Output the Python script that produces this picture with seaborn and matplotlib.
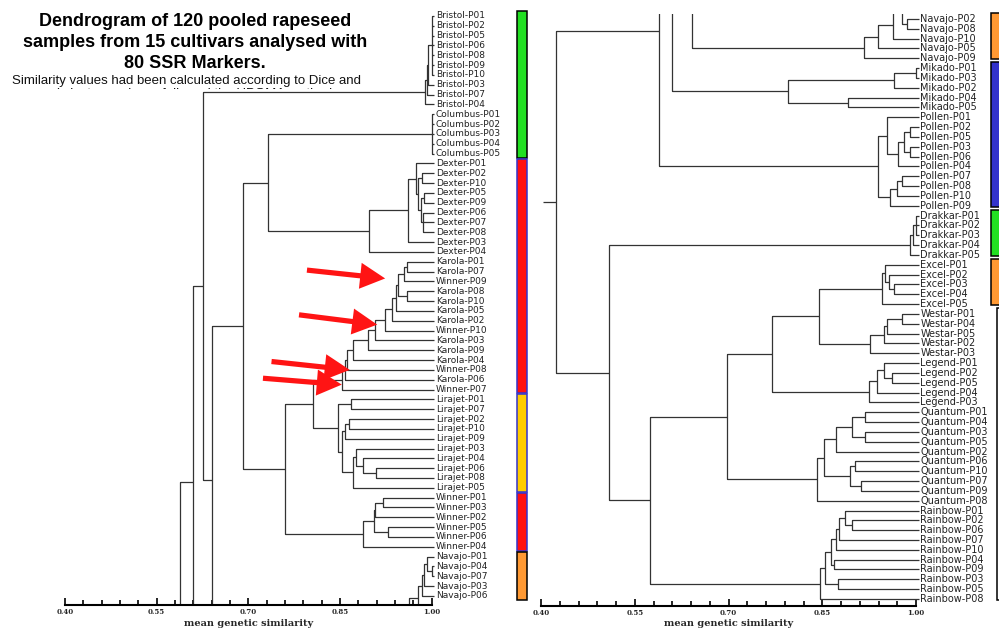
import matplotlib
matplotlib.use("Agg")
import matplotlib.pyplot as plt
import matplotlib.transforms as mtransforms
import numpy as np
import seaborn as sns
from matplotlib.patches import Rectangle

# leaf order, top to bottom, of the two halves of the dendrogram
left_leaves = [
    "Bristol-P01", "Bristol-P02", "Bristol-P05", "Bristol-P06", "Bristol-P08",
    "Bristol-P09", "Bristol-P10", "Bristol-P03", "Bristol-P07", "Bristol-P04",
    "Columbus-P01", "Columbus-P02", "Columbus-P03", "Columbus-P04", "Columbus-P05",
    "Dexter-P01", "Dexter-P02", "Dexter-P10", "Dexter-P05", "Dexter-P09",
    "Dexter-P06", "Dexter-P07", "Dexter-P08", "Dexter-P03", "Dexter-P04",
    "Karola-P01", "Karola-P07", "Winner-P09", "Karola-P08", "Karola-P10",
    "Karola-P05", "Karola-P02", "Winner-P10", "Karola-P03", "Karola-P09",
    "Karola-P04", "Winner-P08", "Karola-P06", "Winner-P07",
    "Lirajet-P01", "Lirajet-P07", "Lirajet-P02", "Lirajet-P10", "Lirajet-P09",
    "Lirajet-P03", "Lirajet-P04", "Lirajet-P06", "Lirajet-P08", "Lirajet-P05",
    "Winner-P01", "Winner-P03", "Winner-P02", "Winner-P05", "Winner-P06", "Winner-P04",
    "Navajo-P01", "Navajo-P04", "Navajo-P07", "Navajo-P03", "Navajo-P06",
]
right_leaves = [
    "Navajo-P02", "Navajo-P08", "Navajo-P10", "Navajo-P05", "Navajo-P09",
    "Mikado-P01", "Mikado-P03", "Mikado-P02", "Mikado-P04", "Mikado-P05",
    "Pollen-P01", "Pollen-P02", "Pollen-P05", "Pollen-P03", "Pollen-P06",
    "Pollen-P04", "Pollen-P07", "Pollen-P08", "Pollen-P10", "Pollen-P09",
    "Drakkar-P01", "Drakkar-P02", "Drakkar-P03", "Drakkar-P04", "Drakkar-P05",
    "Excel-P01", "Excel-P02", "Excel-P03", "Excel-P04", "Excel-P05",
    "Westar-P01", "Westar-P04", "Westar-P05", "Westar-P02", "Westar-P03",
    "Legend-P01", "Legend-P02", "Legend-P05", "Legend-P04", "Legend-P03",
    "Quantum-P01", "Quantum-P04", "Quantum-P03", "Quantum-P05", "Quantum-P02",
    "Quantum-P06", "Quantum-P10", "Quantum-P07", "Quantum-P09", "Quantum-P08",
    "Rainbow-P01", "Rainbow-P02", "Rainbow-P06", "Rainbow-P07", "Rainbow-P10",
    "Rainbow-P04", "Rainbow-P09", "Rainbow-P03", "Rainbow-P05", "Rainbow-P08",
]

# merges, bottom-up: (similarity, b0, b1, ..., bn)
# children are the leaf ranges [b0, b1), [b1, b2), ...
links = [
    # Bristol
    (1.000, 0, 1, 2, 3, 4, 5, 6, 7), (0.994, 0, 7, 8), (0.992, 0, 8, 9), (0.990, 0, 9, 10),
    # Columbus
    (1.000, 10, 11, 12, 13, 14, 15),
    # Dexter
    (0.984, 16, 17, 18), (0.988, 18, 19, 20), (0.986, 20, 21, 22, 23), (0.982, 18, 20, 23),
    (0.978, 16, 18, 23), (0.974, 15, 16, 23), (0.962, 15, 23, 24), (0.898, 15, 24, 25),
    (0.732, 10, 15, 25),
    # Karola (+ Winner)
    (0.960, 25, 26, 27), (0.955, 25, 27, 28), (0.959, 28, 29, 30), (0.945, 25, 28, 30),
    (0.941, 25, 30, 31), (0.935, 25, 31, 32), (0.924, 25, 32, 33), (0.907, 25, 33, 34),
    (0.896, 25, 34, 35), (0.872, 25, 35, 36), (0.862, 25, 36, 37), (0.858, 25, 37, 38),
    (0.853, 25, 38, 39),
    # Lirajet
    (0.868, 39, 40, 41), (0.864, 41, 42, 43), (0.858, 41, 43, 44), (0.909, 46, 47, 48),
    (0.888, 45, 46, 48), (0.876, 44, 45, 48), (0.872, 44, 48, 49), (0.853, 41, 44, 49),
    (0.847, 39, 41, 49), (0.806, 25, 39, 49),
    # Winner
    (0.920, 49, 50, 51), (0.907, 49, 51, 52), (0.929, 52, 53, 54), (0.905, 49, 52, 54),
    (0.888, 49, 54, 55), (0.760, 25, 49, 55), (0.691, 10, 25, 55),
    # Navajo
    (1.000, 56, 57, 58), (0.992, 55, 56, 58), (0.988, 55, 58, 59), (0.984, 55, 59, 60),
    (0.985, 60, 61, 62), (0.977, 55, 60, 62), (0.963, 55, 62, 63), (0.939, 55, 63, 64),
    (0.917, 55, 64, 65),
    (0.641, 10, 55, 65), (0.626, 0, 10, 65),
    # Mikado
    (1.000, 65, 66, 67), (0.964, 65, 67, 68), (0.891, 68, 69, 70), (0.795, 65, 68, 70),
    (0.609, 0, 65, 70),
    # Pollen
    (0.990, 71, 72, 73), (0.990, 73, 74, 75), (0.981, 71, 73, 75), (0.971, 71, 75, 76),
    (0.954, 70, 71, 76), (0.977, 76, 77, 78), (0.969, 76, 78, 79), (0.958, 76, 79, 80),
    (0.939, 70, 76, 80), (0.588, 0, 70, 80),
    # Drakkar
    (1.000, 80, 81, 82, 83), (0.995, 80, 83, 84), (0.990, 80, 84, 85),
    # Excel
    (0.964, 87, 88, 89), (0.956, 86, 87, 89), (0.950, 85, 86, 89), (0.945, 85, 89, 90),
    # Westar
    (0.977, 90, 91, 92), (0.954, 90, 92, 93), (0.948, 90, 93, 94), (0.926, 90, 94, 95),
    (0.844, 85, 90, 95),
    # Legend
    (0.961, 96, 97, 98), (0.949, 95, 96, 98), (0.937, 95, 98, 99), (0.924, 95, 99, 100),
    (0.769, 85, 95, 100),
    # Quantum
    (0.918, 100, 101, 102), (0.919, 102, 103, 104), (0.897, 100, 102, 104),
    (0.872, 100, 104, 105), (0.902, 105, 106, 107), (0.912, 107, 108, 109),
    (0.894, 105, 107, 109), (0.853, 100, 105, 109), (0.841, 100, 109, 110),
    (0.697, 85, 100, 110),
    # Rainbow
    (0.897, 111, 112, 113), (0.886, 110, 111, 113), (0.877, 110, 113, 114),
    (0.872, 110, 114, 115), (0.868, 115, 116, 117), (0.864, 110, 115, 117),
    (0.875, 117, 118, 119), (0.854, 110, 117, 119), (0.846, 110, 119, 120),
    (0.574, 85, 110, 120), (0.509, 80, 85, 120), (0.424, 0, 80, 120),
]

# cultivar colour blocks (first leaf, last leaf)
left_groups = [(0, 14), (15, 38), (39, 48), (49, 54), (55, 59)]
right_groups = [(60, 64), (65, 79), (80, 84), (85, 89)]
right_open_group = (90, 119)

major_ticks = [0.40, 0.55, 0.70, 0.85, 1.00]

# red arrows pointing at the Winner samples inside the Karola cluster
arrow_tails = [(0.796, 25.85), (0.783, 30.4), (0.738, 35.15), (0.724, 36.85)]
arrow_heads = [(0.924, 26.7), (0.911, 31.4), (0.866, 36.0), (0.853, 37.5)]

title_lines = ["Dendrogram of 120 pooled rapeseed",
               "samples from 15 cultivars analysed with",
               "80 SSR Markers."]
subtitle_lines = ["Similarity values had been calculated according to Dice and",
                  "and cluster analyses followed the UPGMA method."]

# ---- style ----
left_faces = ["#22e022", "#ff1010", "#ffcc00", "#ff1010", "#ff9933"]
left_edges = ["black", "#3333cc", "#3333cc", "#3333cc", "black"]
right_faces = ["#ff9933", "#3333cc", "#22e022", "#ff9933"]
line_color = "#333333"
label_color = "#222222"

sns.set_style("white")
plt.rcParams["font.family"] = ["DejaVu Sans"]
sans = ["Liberation Sans", "DejaVu Sans"]
serif = ["DejaVu Serif"]

W, H = 999, 633
fig = plt.figure(figsize=(W / 100, H / 100), dpi=100)
fig.patch.set_facecolor("white")


def px_axes(x0, top, w, h, **kw):
    return fig.add_axes([x0 / W, 1 - (top + h) / H, w / W, h / H], **kw)


# title block, partly hidden under the tree area as in the original
bg = px_axes(0, 0, W, H, zorder=-1)
bg.set_xlim(0, W)
bg.set_ylim(H, 0)
bg.axis("off")
for line, yb in zip(title_lines, [26, 47, 68]):
    bg.text(195, yb, line, ha="center", va="baseline", fontsize=13,
            fontweight="bold", family=sans, color="black", zorder=1)
for line, yb in zip(subtitle_lines, [84, 97]):
    bg.text(187, yb, line, ha="center", va="baseline", fontsize=9.5,
            family=sans, color="#111111", zorder=1)
bg.add_patch(Rectangle((0, 88.5), 430, 30, facecolor="white", edgecolor="none", zorder=2))

# ---- tree geometry ----
leaves = left_leaves + right_leaves
tip = 1.004
node = {(i, i + 1): (tip, float(i)) for i in range(len(leaves))}
seg_x, seg_y = [], []
for sim, *cuts in links:
    kids = [node[(a, b)] for a, b in zip(cuts[:-1], cuts[1:])]
    for kx, ky in kids:
        seg_x += [sim, kx, np.nan]
        seg_y += [ky, ky, np.nan]
    seg_x += [sim, sim, np.nan]
    seg_y += [kids[0][1], kids[-1][1], np.nan]
    node[(cuts[0], cuts[-1])] = (sim, (kids[0][1] + kids[-1][1]) / 2)
root_x, root_y = node[(0, len(leaves))]
seg_x += [root_x, 0.403]
seg_y += [root_y, root_y]

row = 9.83
minor_ticks = [t for t in np.round(np.arange(0.40, 1.001, 0.03), 2)
               if not np.any(np.isclose(t, major_ticks))]

# (left px of 0.40, px per unit, top px, axis px, px of first leaf, first leaf index, label size)
panels = [(65, 611, 2, 605, 16, 0, 6.5), (541, 625, 14, 606, 19, 60, 7)]
axes = []
for x0, scale, top, bottom, first_px, idx0, lab_size in panels:
    ax = px_axes(x0, top, scale * 0.62, bottom - top)
    ax.patch.set_visible(False)
    ax.plot(seg_x, seg_y, color=line_color, lw=0.9, solid_capstyle="butt")
    ax.set_xlim(0.40, 1.02)
    ax.set_ylim(idx0 + (bottom - first_px) / row, idx0 + (top - first_px) / row)
    sns.despine(ax=ax, left=True)
    ax.spines["bottom"].set_bounds(0.40, 1.00)
    ax.spines["bottom"].set_linewidth(1.5)
    ax.spines["bottom"].set_color("black")
    ax.set_yticks([])
    ax.set_xticks(major_ticks, labels=[f"{t:.2f}" for t in major_ticks])
    ax.set_xticks(minor_ticks, minor=True)
    ax.tick_params(axis="x", which="both", direction="in", bottom=True,
                   color="black", width=1.2)
    ax.tick_params(axis="x", which="major", length=5, pad=2.5)
    ax.tick_params(axis="x", which="minor", length=3.5)
    for lab in ax.get_xticklabels():
        lab.set_fontfamily(serif)
        lab.set_fontweight("bold")
        lab.set_fontsize(5)
    ax.text(0.70, -(623 - bottom) / (bottom - top), "mean genetic similarity",
            transform=ax.get_xaxis_transform(), ha="center", va="center",
            family=serif, fontweight="bold", fontsize=7)
    for i in range(idx0, idx0 + 60):
        ax.text(tip + 0.003, i, leaves[i], ha="left", va="center", fontsize=lab_size,
                color=label_color, clip_on=False)
    axes.append(ax)

ax_left, ax_right = axes

# colour blocks beside the labels
trans_l = mtransforms.blended_transform_factory(fig.transFigure, ax_left.transData)
for (a, b), fc, ec in zip(left_groups, left_faces, left_edges):
    ax_left.add_patch(Rectangle((516.5 / W, a - 0.5), 10.5 / W, b - a + 0.9,
                                transform=trans_l, facecolor=fc, edgecolor=ec,
                                lw=1.1, clip_on=False))
trans_r = mtransforms.blended_transform_factory(fig.transFigure, ax_right.transData)
for (a, b), fc in zip(right_groups, right_faces):
    ax_right.add_patch(Rectangle((990.5 / W, a - 0.6), 20 / W, b - a + 0.7,
                                 transform=trans_r, facecolor=fc, edgecolor="black",
                                 lw=1.1, clip_on=False))
a, b = right_open_group
ax_right.add_patch(Rectangle((996.5 / W, a - 0.6), 20 / W, b - a + 0.7,
                             transform=trans_r, facecolor="white", edgecolor="black",
                             lw=1.1, clip_on=False))
for ax in axes:
    ax.set_xlim(0.40, 1.02)
ax_left.set_ylim(59.92, (2 - 16) / row)
ax_right.set_ylim(60 + (606 - 19) / row, 60 + (14 - 19) / row)

for (tx, ty), (hx, hy) in zip(arrow_tails, arrow_heads):
    ax_left.annotate("", xy=(hx, hy), xytext=(tx, ty), annotation_clip=False,
                     arrowprops=dict(arrowstyle="simple,head_length=1.2,head_width=1.25,tail_width=0.25",
                                     facecolor="#ff1414", edgecolor="none",
                                     shrinkA=0, shrinkB=0, mutation_scale=15))

fig.savefig("out.png", dpi=100)
